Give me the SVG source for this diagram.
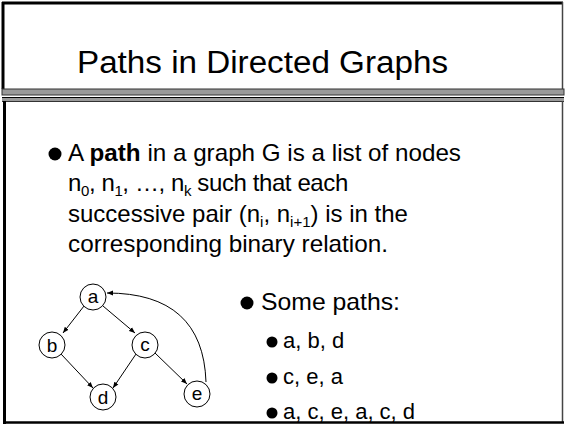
<svg xmlns="http://www.w3.org/2000/svg" width="565" height="424" viewBox="0 0 565 424">
  <style>
    .txt { font-family: "Liberation Sans", Arial, sans-serif; fill: #000; }
    .title { font-size: 31px; }
    .body { font-size: 24px; }
    .sub { font-size: 22px; }
    .low { font-size: 15px; }
    .node circle { fill: #fff; stroke: #000; stroke-width: 1; }
    .node text { font-family: "Liberation Sans", Arial, sans-serif; font-size: 19px; text-anchor: middle; }
    .edge { fill: none; stroke: #000; stroke-width: 1; marker-end: url(#arrow); }
  </style>
  <defs>
    <marker id="arrow" viewBox="0 0 10 10" refX="10" refY="5" markerWidth="6" markerHeight="6" markerUnits="userSpaceOnUse" orient="auto">
      <path d="M0,1 L10,5 L0,9 z" fill="#000"/>
    </marker>
  </defs>

  <rect width="565" height="424" fill="#fff"/>

  <!-- title frame -->
  <g id="title-frame">
    <line x1="3" y1="2" x2="3" y2="89" stroke="#000" stroke-width="3"/>
    <line x1="2" y1="3" x2="563" y2="3" stroke="#000" stroke-width="3"/>
    <line x1="562.5" y1="2" x2="562.5" y2="89" stroke="#444" stroke-width="1.5"/>
    <!-- double rule under the title -->
    <rect x="2" y="89" width="562" height="6" fill="#999" stroke="#333" stroke-width="1"/>
    <line x1="2" y1="97.5" x2="564" y2="97.5" stroke="#000" stroke-width="1"/>
    <rect x="2" y="98" width="562" height="3" fill="#999"/>
    <line x1="2" y1="101.5" x2="564" y2="101.5" stroke="#333" stroke-width="1"/>
  </g>

  <!-- body frame -->
  <g id="body-frame">
    <line x1="4.5" y1="101" x2="4.5" y2="424" stroke="#000" stroke-width="3"/>
    <line x1="562.5" y1="101" x2="562.5" y2="423" stroke="#444" stroke-width="1.5"/>
    <line x1="3" y1="422.5" x2="564" y2="422.5" stroke="#000" stroke-width="2.5"/>
  </g>

  <text class="txt title" x="77" y="73" textLength="371" lengthAdjust="spacingAndGlyphs">Paths in Directed Graphs</text>

  <!-- definition -->
  <g id="definition">
    <circle cx="55" cy="154" r="6.5"/>
    <text class="txt body" x="68" y="161" textLength="393" lengthAdjust="spacingAndGlyphs">A <tspan font-weight="bold">path</tspan> in a graph G is a list of nodes</text>
    <text class="txt body" x="68" y="191" letter-spacing="-0.4">n<tspan class="low" dy="5">0</tspan><tspan dy="-5">, n</tspan><tspan class="low" dy="5">1</tspan><tspan dy="-5">, …, n</tspan><tspan class="low" dy="5">k</tspan><tspan dy="-5"> such that each</tspan></text>
    <text class="txt body" x="68" y="222">successive pair (n<tspan class="low" dy="5">i</tspan><tspan dy="-5">, n</tspan><tspan class="low" dy="5">i+1</tspan><tspan dy="-5">) is in the</tspan></text>
    <text class="txt body" x="68" y="252" textLength="320" lengthAdjust="spacingAndGlyphs">corresponding binary relation.</text>
  </g>

  <!-- connectors -->
  <g id="edges">
    <line class="edge" x1="84" y1="306" x2="63" y2="333"/>
    <line class="edge" x1="103" y1="306" x2="135" y2="333"/>
    <line class="edge" x1="61" y1="354" x2="93" y2="388"/>
    <line class="edge" x1="136" y1="354" x2="113" y2="388"/>
    <line class="edge" x1="155" y1="353" x2="187" y2="384"/>
    <path class="edge" d="M206,382 Q203,293 107,293"/>
  </g>

  <!-- nodes -->
  <g id="node-a" class="node"><circle cx="93" cy="297" r="13"/><text x="93" y="303">a</text></g>
  <g id="node-b" class="node"><circle cx="52" cy="345" r="13"/><text x="52" y="352">b</text></g>
  <g id="node-c" class="node"><circle cx="145" cy="345" r="13"/><text x="145" y="351">c</text></g>
  <g id="node-d" class="node"><circle cx="103" cy="397" r="13"/><text x="103" y="404">d</text></g>
  <g id="node-e" class="node"><circle cx="197" cy="394" r="13"/><text x="197" y="400">e</text></g>

  <!-- example paths -->
  <g id="examples">
    <circle cx="247" cy="303" r="6.5"/>
    <text class="txt body" x="261" y="310" textLength="139" lengthAdjust="spacingAndGlyphs">Some paths:</text>
    <circle cx="272" cy="342" r="5.5"/>
    <text class="txt sub" x="283" y="348">a, b, d</text>
    <circle cx="272" cy="378" r="5.5"/>
    <text class="txt sub" x="283" y="384">c, e, a</text>
    <circle cx="272" cy="413" r="5.5"/>
    <text class="txt sub" x="283" y="419">a, c, e, a, c, d</text>
  </g>
</svg>
